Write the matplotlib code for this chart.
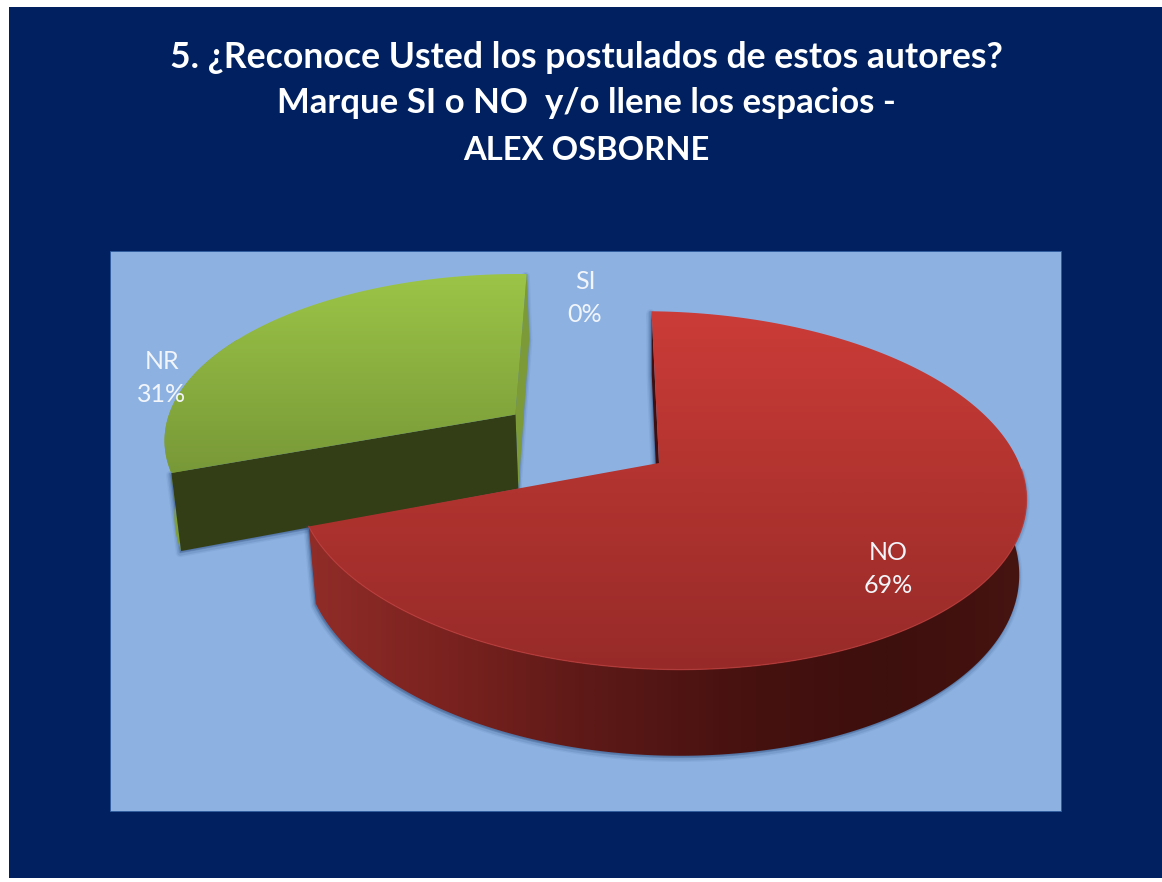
import numpy as np
import matplotlib
matplotlib.use('Agg')
import matplotlib.pyplot as plt
from matplotlib.colors import LinearSegmentedColormap
from matplotlib.patches import Polygon, Rectangle

# Datos del grafico
categorias = ['NO', 'SI', 'NR']
porcentajes = [69, 0, 31]
titulo = ['5. ¿Reconoce Usted los postulados de estos autores?',
          'Marque SI o NO  y/o llene los espacios -',
          'ALEX OSBORNE']

# Centro de las etiquetas, en pixeles de la imagen
pos_etiquetas = {'NO': (888, 569), 'SI': (585, 298), 'NR': (162, 378)}

# Proyeccion del disco
apex_x, apex_y = 659, 463
esc_x, esc_y = 360, 175
persp = 0.153
sesgo = -0.05
prof = 73
giro = 1.5
sep_nr = 0.495
radio_nr = 1.005
encoge = 0.98   # la cara inferior se ve algo mas estrecha


def proyecta(x, y):
    f = 1 + persp * y
    return apex_x + esc_x * (x + sesgo * y) / f, apex_y - esc_y * y / f


def punto(ang, ox=0.0, oy=0.0, r=1.0):
    a = np.radians(ang)
    return proyecta(ox + r * np.sin(a), oy + r * np.cos(a))


def baja(x, y, y_disco, p=prof):
    # mismo punto del disco, en la cara inferior
    return apex_x + (x - apex_x) * encoge, y + p / (1 + persp * y_disco)


def gradiente(ax, poly, colores, extent, vertical=True):
    cmap = LinearSegmentedColormap.from_list('g', colores)
    g = np.linspace(0, 1, 512)
    g = g.reshape(-1, 1) if vertical else g.reshape(1, -1)
    im = ax.imshow(g, cmap=cmap, extent=extent, aspect='auto', zorder=poly.get_zorder(),
                   interpolation='bilinear')
    poly.set_facecolor('none')
    poly.set_edgecolor('none')
    ax.add_patch(poly)
    im.set_clip_path(poly)


def sombra(ax, pts, z):
    for lw, al, dy in [(6, 0.08, 2), (4, 0.14, 2), (2, 0.20, 1)]:
        ax.add_patch(Polygon(pts + np.array([-1, dy]), closed=True, facecolor='#2f4f80', edgecolor='#2f4f80',
                             alpha=al, lw=lw, zorder=z, joinstyle='round'))


fig = plt.figure(figsize=(11.62, 8.82), dpi=100, facecolor='white')
ax = fig.add_axes([0, 0, 1, 1])
ax.set_axis_off()

ax.add_patch(Rectangle((9, 7), 1153, 871, facecolor='#00205f', edgecolor='none', zorder=0))
ax.add_patch(Rectangle((110, 251), 951, 560, facecolor='#8db2e2', edgecolor='#2d5b9e', lw=0.6, zorder=1))

total = sum(porcentajes)
fin_no = giro + porcentajes[0] / total * 360
fin_nr = fin_no + porcentajes[2] / total * 360
medio_nr = np.radians((fin_no + fin_nr) / 2)
ox = sep_nr * np.sin(medio_nr)
oy = sep_nr * np.cos(medio_nr)

# --- NR, la porcion separada ---
angs = np.linspace(fin_no, fin_nr, 240)
xs, ys = punto(angs, ox, oy, radio_nr)
xb, yb = baja(xs, ys, oy + radio_nr * np.cos(np.radians(angs)), prof * 1.06)
ap_x, ap_y = proyecta(ox, oy)
ap_xb, ap_yb = baja(ap_x, ap_y, oy, prof * 1.06)

vis = angs < 300
pared = np.vstack([np.c_[xs[vis], ys[vis]], np.c_[xb[vis], yb[vis]][::-1]])
cara_fin = np.array([[ap_x, ap_y], [xs[0], ys[0]], [xb[0], yb[0]], [ap_xb, ap_yb]])
cara_ini = np.array([[ap_x, ap_y], [xs[-1], ys[-1]], [xb[-1], yb[-1]], [ap_xb, ap_yb]])
sombra(ax, cara_fin, 2)
sombra(ax, cara_ini, 2)
ax.add_patch(Polygon(pared, closed=True, facecolor='#7f9f39', edgecolor='none', zorder=3))
ax.add_patch(Polygon(cara_ini, closed=True, facecolor='#7c9b38', edgecolor='none', zorder=3))
ax.add_patch(Polygon(cara_fin, closed=True, facecolor='#333e16', edgecolor='none', zorder=4))
sup = np.vstack([[ap_x, ap_y], np.c_[xs, ys]])
gradiente(ax, Polygon(sup, closed=True, zorder=5), ['#9cc547', '#779737'],
          (150, 540, 480, 272))

# --- NO ---
angs = np.linspace(giro, fin_no, 360)
xs, ys = punto(angs)
xb, yb = baja(xs, ys, np.cos(np.radians(angs)))
vis = angs > 92
pared = np.vstack([np.c_[xs[vis], ys[vis]], np.c_[xb[vis], yb[vis]][::-1]])
sombra(ax, pared, 6)
gradiente(ax, Polygon(pared, closed=True, zorder=7),
          ['#922d29', '#7a221f', '#5c1917', '#471210', '#3d0f0d', '#471411'],
          (300, 1035, 780, 480), vertical=False)
ap_xb, ap_yb = baja(apex_x, apex_y, 0)
cara = np.array([[apex_x, apex_y], [xs[0], ys[0]], [xb[0], yb[0]], [ap_xb, ap_yb]])
sombra(ax, cara, 6)
ax.add_patch(Polygon(cara, closed=True, facecolor='#3e0f10', edgecolor='none', zorder=7))
sup = np.vstack([[apex_x, apex_y], np.c_[xs, ys]])
gradiente(ax, Polygon(sup, closed=True, zorder=8), ['#cc3c38', '#b0332f', '#952a28'],
          (290, 1040, 680, 305))
ax.plot(xs[vis], ys[vis], color='#c53d38', lw=0.9, alpha=0.7, zorder=9)

# --- Etiquetas ---
for cat, val in zip(categorias, porcentajes):
    x, y = pos_etiquetas[cat]
    ax.text(x, y, f'{cat}\n{val}%', ha='center', va='center', color='#f2f5fa', fontsize=18,
            family='Lato', linespacing=1.55, zorder=10)

# --- Titulo ---
for linea, y, tam in zip(titulo, [57, 103, 150], [25.6, 25, 23.6]):
    ax.text(586, y, linea, ha='center', va='center', color='white', fontsize=tam,
            family='Lato', weight='bold', zorder=10)

ax.set_xlim(0, 1162)
ax.set_ylim(882, 0)
fig.savefig('out.png', dpi=100, facecolor='white')
